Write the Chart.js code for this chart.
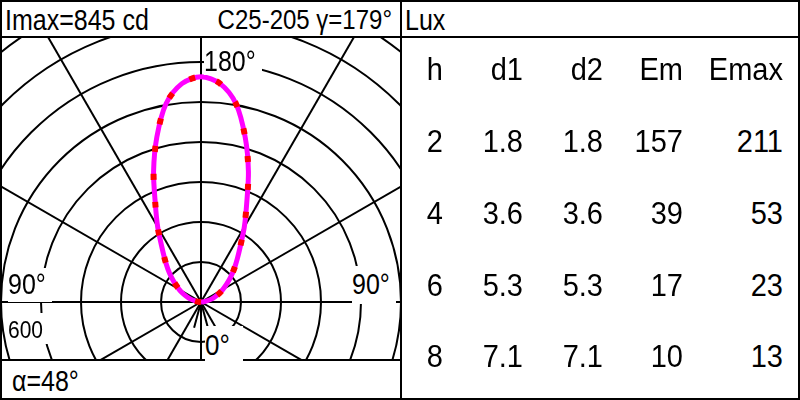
<!DOCTYPE html>
<html>
<head>
<meta charset="utf-8">
<script src="https://cdn.jsdelivr.net/npm/chart.js@4.4.0/dist/chart.umd.min.js"></script>
<style>
  html, body { margin: 0; padding: 0; background: #fff; }
  #page { position: relative; width: 800px; height: 400px; overflow: hidden;
          font-family: "Liberation Sans", Arial, sans-serif; color: #000; }
  .ln { position: absolute; background: #000; }
  .t { position: absolute; white-space: nowrap; line-height: 1; }
  .s { display: inline-block; transform: scaleY(1.15); transform-origin: 50% 60%; }
  .lbl { background: #fff; }
  .cell { position: absolute; width: 90px; text-align: right; font-size: 29px;
          line-height: 1; transform: scaleY(1.1); }
  #polar { position: absolute; left: 0; top: 38px; }
</style>
</head>
<body>
<div id="page">
  <canvas id="polar" width="400" height="322"></canvas>

  <!-- frame -->
  <div class="ln" style="left:0;top:0;width:800px;height:2px"></div>
  <div class="ln" style="left:0;top:398px;width:800px;height:2px"></div>
  <div class="ln" style="left:0;top:0;width:2px;height:400px"></div>
  <div class="ln" style="left:798px;top:0;width:2px;height:400px"></div>
  <div class="ln" style="left:0;top:36px;width:800px;height:2px"></div>
  <div class="ln" style="left:400px;top:0;width:2px;height:400px"></div>
  <div class="ln" style="left:0;top:359px;width:400px;height:2px"></div>

  <!-- header -->
  <div class="t" style="left:5px;top:8px;font-size:25px"><span class="s">Imax=845 cd</span></div>
  <div class="t" style="right:408px;top:8px;font-size:24px"><span class="s">C25-205 &gamma;=179°</span></div>
  <div class="t" style="left:405px;top:8px;font-size:25px"><span class="s">Lux</span></div>
  <div class="t" style="left:12px;top:369px;font-size:25px"><span class="s">&alpha;=48°</span></div>

  <!-- polar labels -->
  <div class="t lbl" style="left:204px;top:47px;width:58px;height:26px;font-size:25px;padding-top:2px"><span class="s">180°</span></div>
  <div class="t lbl" style="left:8px;top:268px;width:44px;height:30px;font-size:25px;padding-top:4px"><span class="s">90°</span></div>
  <div class="t lbl" style="left:352px;top:266px;width:44px;height:32px;font-size:25px;padding-top:6px"><span class="s">90°</span></div>
  <div class="t lbl" style="left:8px;top:313px;width:44px;height:25px;font-size:21px;padding-top:6px"><span class="s">600</span></div>
  <div class="t lbl" style="left:205px;top:326px;width:38px;height:32px;font-size:26px;padding-top:6px"><span class="s">0°</span></div>

  <div id="table"></div>
</div>

<script>
// light distribution, gamma angle (deg) vs intensity (cd)
const gammaAngles = [90, 95, 100, 105, 110, 115, 120, 125, 130, 135, 140, 145, 150, 155, 160, 165, 170, 175, 180];
const intensityC25 = [0, 10, 22, 38, 55, 75, 95, 118, 145, 176, 212, 258, 325, 405, 520, 640, 755, 822, 845];
const intensityC205 = [0, 10, 22, 38, 55, 75, 95, 118, 145, 176, 212, 258, 325, 405, 520, 640, 755, 822, 845];

// polar grid
const gridRadii = [150, 300, 450, 600, 750, 900, 1050, 1200, 1350];
const spokeAngles = [0, 30, 60, 90, 120, 150, 180, 210, 240, 270, 300, 330];
const tickAngles = [15, 345];

// table
const tableHeaders = ['h', 'd1', 'd2', 'Em', 'Emax'];
const heights = ['2', '4', '6', '8'];
const d1 = ['1.8', '3.6', '5.3', '7.1'];
const d2 = ['1.8', '3.6', '5.3', '7.1'];
const em = ['157', '39', '17', '10'];
const emax = ['211', '53', '23', '13'];

const colRight = [443, 523, 603, 683, 783];
const rowMid = [70, 142, 214, 286, 357];
const table = document.getElementById('table');
function cell(text, col, row) {
    const d = document.createElement('div');
    d.className = 'cell';
    d.textContent = text;
    d.style.left = (colRight[col] - 90) + 'px';
    d.style.top = (rowMid[row] - 15) + 'px';
    table.appendChild(d);
}
tableHeaders.forEach((h, i) => cell(h, i, 0));
[heights, d1, d2, em, emax].forEach((col, i) => col.forEach((v, j) => cell(v, i, j + 1)));

// polar points: gamma 0 points down, 180 up
function lobe() {
    const pts = [];
    gammaAngles.forEach((g, i) => {
        const a = g * Math.PI / 180;
        pts.push({ x: -intensityC205[i] * Math.sin(a), y: -intensityC205[i] * Math.cos(a) });
    });
    for (let i = gammaAngles.length - 2; i >= 0; i--) {
        const a = gammaAngles[i] * Math.PI / 180;
        pts.push({ x: intensityC25[i] * Math.sin(a), y: -intensityC25[i] * Math.cos(a) });
    }
    return pts;
}

const polarGrid = {
    id: 'polarGrid',
    beforeDatasetsDraw(chart) {
        const { ctx, chartArea, scales } = chart;
        const cx = scales.x.getPixelForValue(0);
        const cy = scales.y.getPixelForValue(0);
        const px = v => scales.x.getPixelForValue(v) - cx;
        ctx.save();
        ctx.beginPath();
        ctx.rect(chartArea.left, chartArea.top, chartArea.right - chartArea.left, chartArea.bottom - chartArea.top);
        ctx.clip();
        ctx.strokeStyle = '#000';
        ctx.lineWidth = 2;
        gridRadii.forEach(r => {
            ctx.beginPath();
            ctx.arc(cx, cy, px(r), 0, Math.PI * 2);
            ctx.stroke();
        });
        const spoke = (deg, len) => {
            const a = deg * Math.PI / 180;
            ctx.beginPath();
            ctx.moveTo(cx, cy);
            ctx.lineTo(cx + px(len) * Math.sin(a), cy + px(len) * Math.cos(a));
            ctx.stroke();
        };
        spokeAngles.forEach(d => spoke(d, 1500));
        tickAngles.forEach(d => spoke(d, 100));
        ctx.restore();
    }
};

const pts = lobe();
new Chart(document.getElementById('polar'), {
    type: 'scatter',
    data: {
        datasets: [{
            // red marks over the curve (dataset 0 is painted last)
            data: pts,
            showLine: true,
            borderColor: '#ff0000',
            borderWidth: 6,
            borderDash: [6, 22],
            pointRadius: 0,
            tension: 0.3
        }, {
            data: pts,
            showLine: true,
            borderColor: '#ff00ff',
            borderWidth: 5,
            pointRadius: 0,
            tension: 0.3
        }]
    },
    options: {
        responsive: false,
        animation: false,
        devicePixelRatio: 1,
        layout: { padding: 0 },
        plugins: { legend: { display: false }, tooltip: { enabled: false } },
        scales: {
            x: { type: 'linear', display: false, min: -753.75, max: 746.25 },
            y: { type: 'linear', display: false, min: -217.5, max: 990 }
        }
    },
    plugins: [polarGrid]
});
</script>
</body>
</html>
